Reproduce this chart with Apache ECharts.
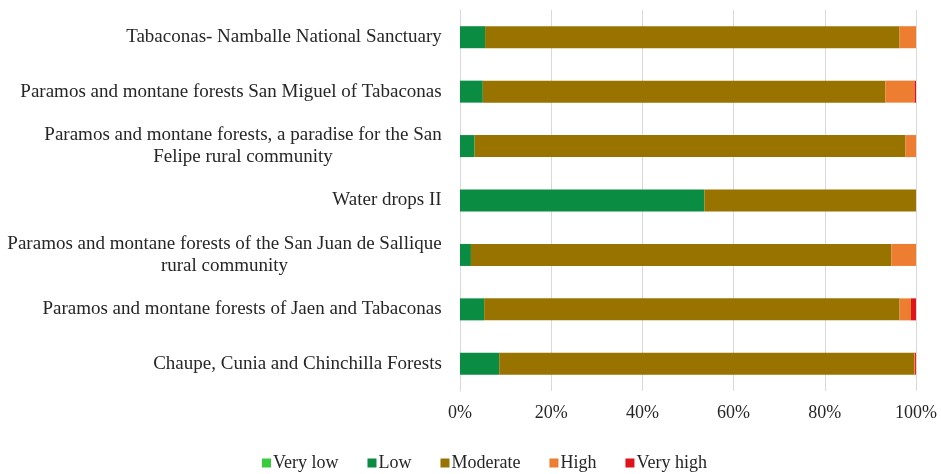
<!DOCTYPE html>
<html>
<head>
<meta charset="utf-8">
<script src="https://cdn.jsdelivr.net/npm/echarts@6/dist/echarts.min.js"></script>
<style>
  html, body { margin: 0; padding: 0; background: #fff; }
  #chart { width: 941px; height: 474px; }
</style>
</head>
<body>
<div id="chart"></div>
<script>
// categories, top to bottom
const categories = [
  'Tabaconas- Namballe National Sanctuary',
  'Paramos and montane forests San Miguel of Tabaconas',
  'Paramos and montane forests, a paradise for the San\nFelipe rural community',
  'Water drops II',
  'Paramos and montane forests of the San Juan de Sallique\nrural community',
  'Paramos and montane forests of Jaen and Tabaconas',
  'Chaupe, Cunia and Chinchilla Forests'
];
const veryLow = [0, 0, 0, 0, 0, 0, 0];
const low = [5.5, 5.0, 3.2, 53.6, 2.4, 5.3, 8.6];
const moderate = [90.9, 88.3, 94.5, 46.4, 92.2, 91.1, 91.0];
const high = [3.6, 6.4, 2.3, 0, 5.4, 2.5, 0.2];
const veryHigh = [0, 0.3, 0, 0, 0, 1.1, 0.2];
const xTicks = [0, 20, 40, 60, 80, 100];

const FONT = '"Liberation Serif", "Times New Roman", serif';
const FS = 19;   // category labels
const FS2 = 18;  // ticks + legend

// measure label lines so two-line labels are centred like the original
const ctx = document.createElement('canvas').getContext('2d');
ctx.font = FS + 'px "Liberation Serif"';
const rich = {};
categories.forEach((c, i) => {
  const w = Math.max(...c.split('\n').map(l => ctx.measureText(l).width));
  rich['l' + i] = { width: Math.ceil(w) + 2, align: 'center', fontFamily: FONT, fontSize: FS, color: '#262626', lineHeight: 22 };
});

const chart = echarts.init(document.getElementById('chart'));

function bar(name, data, color) {
  return {
    name: name,
    type: 'bar',
    stack: 'total',
    barWidth: 22,
    itemStyle: { color: color },
    data: data
  };
}

chart.setOption({
  animation: false,
  backgroundColor: '#fff',
  textStyle: { fontFamily: FONT },
  grid: { left: 460, right: 25, top: 10, bottom: 83 },
  legend: {
    bottom: 2,
    left: 262,
    padding: 0,
    itemWidth: 9,
    itemHeight: 9,
    itemGap: 29,
    icon: 'rect',
    textStyle: { fontFamily: FONT, fontSize: FS2, color: '#262626', padding: [0, 0, 0, -3] },
    data: ['Very low', 'Low', 'Moderate', 'High', 'Very high']
  },
  xAxis: {
    type: 'value',
    min: xTicks[0],
    max: xTicks[xTicks.length - 1],
    interval: 20,
    axisLine: { show: false },
    axisTick: { show: false },
    axisLabel: { formatter: '{value}%', fontFamily: FONT, fontSize: FS2, color: '#262626', margin: 13 },
    splitLine: { lineStyle: { color: '#d9d9d9', width: 1 } }
  },
  yAxis: {
    type: 'category',
    inverse: true,
    data: categories,
    axisLine: { lineStyle: { color: '#d9d9d9' } },
    axisTick: { show: false },
    axisLabel: {
      margin: 17,
      formatter: (v, i) => v.split('\n').map(l => '{l' + i + '|' + l + '}').join('\n'),
      rich: rich
    }
  },
  series: [
    bar('Very low', veryLow, '#36cc3c'),
    bar('Low', low, '#0a8c42'),
    bar('Moderate', moderate, '#997300'),
    bar('High', high, '#ed7d31'),
    bar('Very high', veryHigh, '#e0121a')
  ]
});
</script>
</body>
</html>
